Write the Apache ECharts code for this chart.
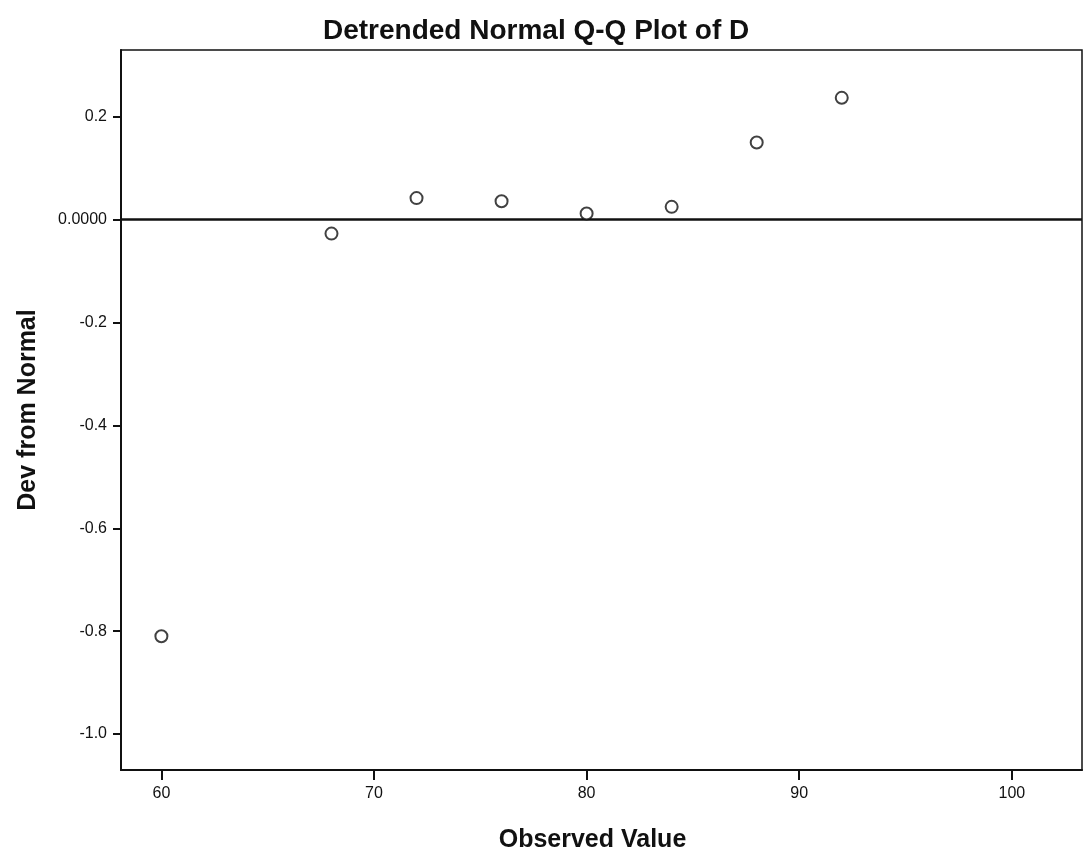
<!DOCTYPE html>
<html>
<head>
<meta charset="utf-8">
<style>
html,body{margin:0;padding:0;background:#fff;}
#chart{width:1088px;height:856px;}
</style>
<script src="https://cdn.jsdelivr.net/npm/echarts@6/dist/echarts.min.js"></script>
</head>
<body>
<div id="chart"></div>
<script>
// Data
var observedValues = [60, 68, 72, 76, 80, 84, 88, 92];
var devFromNormal = [-0.81, -0.027, 0.042, 0.036, 0.012, 0.025, 0.15, 0.237];
var yTickValues = [-1.0, -0.8, -0.6, -0.4, -0.2, 0.0, 0.2];
var xTickValues = [60, 70, 80, 90, 100];
var referenceLineY = 0;

var points = observedValues.map(function (v, i) { return [v, devFromNormal[i]]; });

var chart = echarts.init(document.getElementById('chart'), null, {renderer: 'canvas'});
var fontFamily = '"Liberation Sans", Arial, sans-serif';

chart.setOption({
  backgroundColor: '#ffffff',
  animation: false,
  title: {
    text: 'Detrended Normal Q-Q Plot of D',
    left: 318,
    top: 12,
    textStyle: {fontFamily: fontFamily, fontSize: 28, fontWeight: 'bold', color: '#111'}
  },
  grid: {
    left: 121, right: 6, top: 50, bottom: 86,
    outerBoundsMode: 'none',
    containLabel: false,
    show: true, borderColor: '#111', borderWidth: 1.5, backgroundColor: '#fff'
  },
  xAxis: {
    type: 'value',
    min: 58.1, max: 103.3,
    name: 'Observed Value',
    nameLocation: 'middle',
    nameGap: 58,
    nameTextStyle: {fontFamily: fontFamily, fontSize: 25, fontWeight: 'bold', color: '#111', padding: [0, 18, 0, 0]},
    axisLine: {show: true, onZero: false, lineStyle: {color: '#111', width: 2}},
    axisTick: {show: true, length: 10, lineStyle: {color: '#111', width: 2}, customValues: xTickValues},
    axisLabel: {fontFamily: fontFamily, fontSize: 16, color: '#111', margin: 16, customValues: xTickValues,
      formatter: function (v) { return String(v); }},
    splitLine: {show: false}
  },
  yAxis: {
    type: 'value',
    min: -1.07, max: 0.33,
    name: 'Dev from Normal',
    nameLocation: 'middle',
    nameGap: 80,
    nameRotate: 90,
    nameTextStyle: {fontFamily: fontFamily, fontSize: 25, fontWeight: 'bold', color: '#111'},
    axisLine: {show: true, onZero: false, lineStyle: {color: '#111', width: 2}},
    axisTick: {show: true, length: 8, lineStyle: {color: '#111', width: 2}, customValues: yTickValues},
    axisLabel: {fontFamily: fontFamily, fontSize: 16, color: '#111', margin: 14, customValues: yTickValues,
      formatter: function (v) {
        if (Math.abs(v) < 1e-9) return '0.0000';
        return v.toFixed(1);
      }},
    splitLine: {show: false}
  },
  series: [
    {
      type: 'scatter',
      data: points,
      symbol: 'circle',
      symbolSize: 12,
      itemStyle: {color: '#ffffff', borderColor: '#111', borderWidth: 2},
      z: 5,
      markLine: {
        silent: true,
        symbol: ['none', 'none'],
        label: {show: false},
        lineStyle: {color: '#111', width: 2.5, type: 'solid'},
        data: [{yAxis: referenceLineY}]
      }
    }
  ]
});
</script>
</body>
</html>
